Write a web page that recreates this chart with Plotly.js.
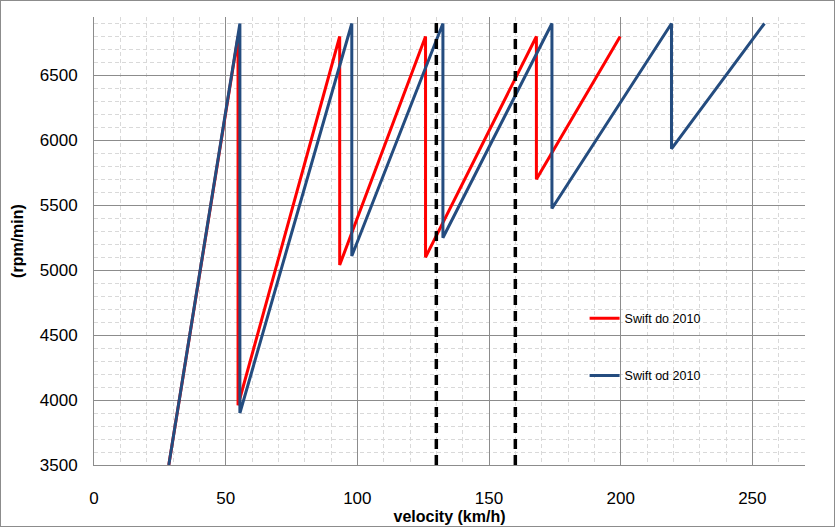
<!DOCTYPE html>
<html>
<head>
<meta charset="utf-8">
<script src="https://cdn.plot.ly/plotly-3.0.1.min.js"></script>
<style>
  body { margin: 0; background: #fff; }
  #chart { width: 833px; height: 525px; border: 1px solid #8c8c8c; }
</style>
</head>
<body>
<div id="chart"></div>
<script>
// Swift do 2010 (red) - speed km/h vs engine rpm, with gear shifts
const oldSpeed = [28.4, 54.7, 54.7, 93.3, 93.3, 125.9, 125.9, 168.0, 168.0, 199.8];
const oldRpm   = [3500, 6800, 3960, 6800, 5040, 6800, 5100, 6800, 5700, 6800];

// Swift od 2010 (blue)
const newSpeed = [28.4, 55.4, 55.4, 97.9, 97.9, 132.5, 132.5, 173.9, 173.9, 219.3, 219.3, 254.6];
const newRpm   = [3500, 6900, 3900, 6900, 5110, 6900, 5250, 6900, 5475, 6900, 5935, 6900];

// speed limits (dashed black)
const limits = [130, 160];
const yMin = 3500, yMax = 6950;

const traces = [
    { x: oldSpeed, y: oldRpm, name: 'Swift do 2010', type: 'scatter', mode: 'lines',
      line: { color: '#ff0000', width: 3 }, legendgroup: 'a' },
    { x: newSpeed, y: newRpm, name: 'Swift od 2010', type: 'scatter', mode: 'lines',
      line: { color: '#244c7f', width: 3 }, legendgroup: 'b' }
];
limits.forEach(v => {
    traces.push({ x: [v, v], y: [yMin, yMax], type: 'scatter', mode: 'lines', showlegend: false,
                  line: { color: '#000', width: 3.5, dash: '10px,6px' }, hoverinfo: 'skip' });
});

const layout = {
    width: 833, height: 525,
    margin: { l: 93, r: 29, t: 16, b: 61 },
    paper_bgcolor: '#fff', plot_bgcolor: '#fff',
    font: { family: 'Liberation Sans, Arial, sans-serif', color: '#000' },
    showlegend: true,
    legend: { x: 0.69, y: 0.36, xanchor: 'left', yanchor: 'top', bgcolor: 'rgba(0,0,0,0)',
              font: { size: 12.5 }, tracegroupgap: 38 },
    xaxis: {
        range: [0, 270], dtick: 50, tick0: 0,
        showgrid: true, gridcolor: '#8c8c8c', gridwidth: 1,
        minor: { dtick: 10, showgrid: true, gridcolor: '#d9d9d9', griddash: '4px,3px', gridwidth: 1 },
        zeroline: false, showline: true, linecolor: '#8c8c8c',
        ticks: '', tickfont: { size: 17 }, ticklabelstandoff: 18,
        title: { text: 'velocity (km/h)', font: { size: 16, weight: 'bold' }, standoff: 0 }
    },
    yaxis: {
        range: [yMin, yMax], dtick: 500, tick0: 3500,
        showgrid: true, gridcolor: '#8c8c8c', gridwidth: 1,
        minor: { dtick: 100, showgrid: true, gridcolor: '#d9d9d9', griddash: '4px,3px', gridwidth: 1 },
        zeroline: false, showline: true, linecolor: '#8c8c8c',
        ticks: '', tickfont: { size: 17 }, ticklabelstandoff: 12,
        title: { text: '(rpm/min)', font: { size: 16, weight: 'bold' }, standoff: 12 }
    }
};

Plotly.newPlot('chart', traces, layout, { staticPlot: true });
</script>
</body>
</html>
